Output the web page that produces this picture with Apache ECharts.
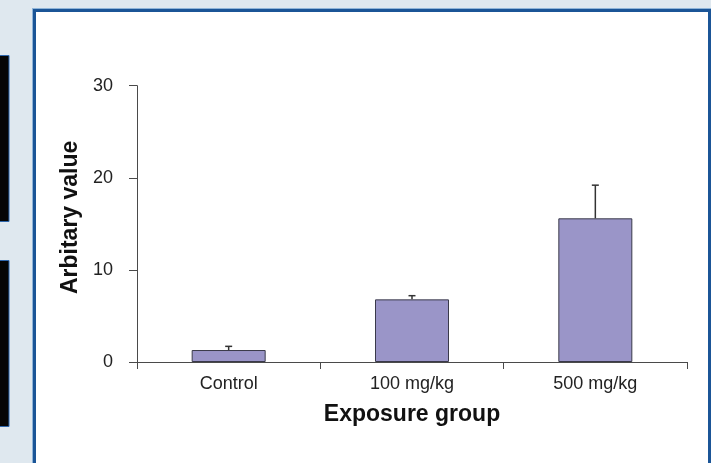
<!DOCTYPE html>
<html>
<head>
<meta charset="utf-8">
<script src="https://cdn.jsdelivr.net/npm/echarts@6/dist/echarts.min.js"></script>
<style>
  html, body { margin: 0; padding: 0; background: #dfe8ef; }
  #chart { width: 711px; height: 463px; }
</style>
</head>
<body>
<div id="chart"></div>
<script>
// Exposure groups and measured means with their upper error (SD)
const categories = ['Control', '100 mg/kg', '500 mg/kg'];
const means = [1.3, 6.8, 15.6];
const errors = [0.4, 0.4, 3.6];
const yTicks = { min: 0, max: 30, interval: 10 };

const errorData = categories.map((c, i) => [i, means[i], means[i] + errors[i]]);

const chart = echarts.init(document.getElementById('chart'), null, { renderer: 'canvas' });

const font = '"Liberation Sans", Arial, Helvetica, sans-serif';

chart.setOption({
  backgroundColor: '#dfe8ef',
  animation: false,
  graphic: [
    // dark side panels on the page edge
    { type: 'rect', z: -20, silent: true,
      shape: { x: -2, y: 55.5, width: 11, height: 166 },
      style: { fill: '#050505', stroke: '#2e66ab', lineWidth: 1 } },
    { type: 'rect', z: -20, silent: true,
      shape: { x: -2, y: 260.5, width: 11, height: 166 },
      style: { fill: '#050505', stroke: '#2e66ab', lineWidth: 1 } },
    // thin light rim around the panel frame
    { type: 'rect', z: -21, silent: true,
      shape: { x: 32, y: 8, width: 690, height: 480 },
      style: { fill: '#8fb4d8' } },
    // white framed panel holding the plot
    { type: 'rect', z: -20, silent: true,
      shape: { x: 34.5, y: 10.5, width: 675, height: 470 },
      style: { fill: '#ffffff', stroke: '#1b5597', lineWidth: 3 } }
  ],
  grid: { left: 137, right: 24, top: 85.7, bottom: 101 },
  xAxis: {
    type: 'category',
    data: categories,
    name: 'Exposure group',
    nameLocation: 'middle',
    nameGap: 41,
    nameTextStyle: { fontFamily: font, fontSize: 23, fontWeight: 'bold', color: '#111' },
    axisLine: { show: true, lineStyle: { color: '#4a4a4a', width: 1 } },
    axisTick: { show: true, length: 7, lineStyle: { color: '#4a4a4a' } },
    axisLabel: { margin: 13, fontFamily: font, fontSize: 18, color: '#222' },
    splitLine: { show: false }
  },
  yAxis: {
    type: 'value',
    min: yTicks.min,
    max: yTicks.max,
    interval: yTicks.interval,
    name: 'Arbitary value',
    nameLocation: 'middle',
    nameRotate: 90,
    nameGap: 46,
    nameTextStyle: { fontFamily: font, fontSize: 23, fontWeight: 'bold', color: '#111', padding: [0, 0, 0, 13] },
    axisLine: { show: true, lineStyle: { color: '#4a4a4a', width: 1 } },
    axisTick: { show: true, length: 8, lineStyle: { color: '#4a4a4a' } },
    axisLabel: { margin: 24, fontFamily: font, fontSize: 18, color: '#222' },
    splitLine: { show: false }
  },
  series: [
    {
      type: 'bar',
      data: means,
      barWidth: 74,
      itemStyle: { color: '#9a95c8', borderColor: '#3a3a4a', borderWidth: 1 },
      z: 2
    },
    {
      type: 'custom',
      data: errorData,
      z: 3,
      renderItem: function (params, api) {
        const x = api.value(0);
        const base = api.coord([x, api.value(1)]);
        const top = api.coord([x, api.value(2)]);
        const half = 3.5;
        const style = { stroke: '#333', lineWidth: 1.5 };
        return {
          type: 'group',
          children: [
            { type: 'line', shape: { x1: base[0], y1: base[1], x2: top[0], y2: top[1] }, style: style },
            { type: 'line', shape: { x1: top[0] - half, y1: top[1], x2: top[0] + half, y2: top[1] }, style: style }
          ]
        };
      }
    }
  ]
});
</script>
</body>
</html>
